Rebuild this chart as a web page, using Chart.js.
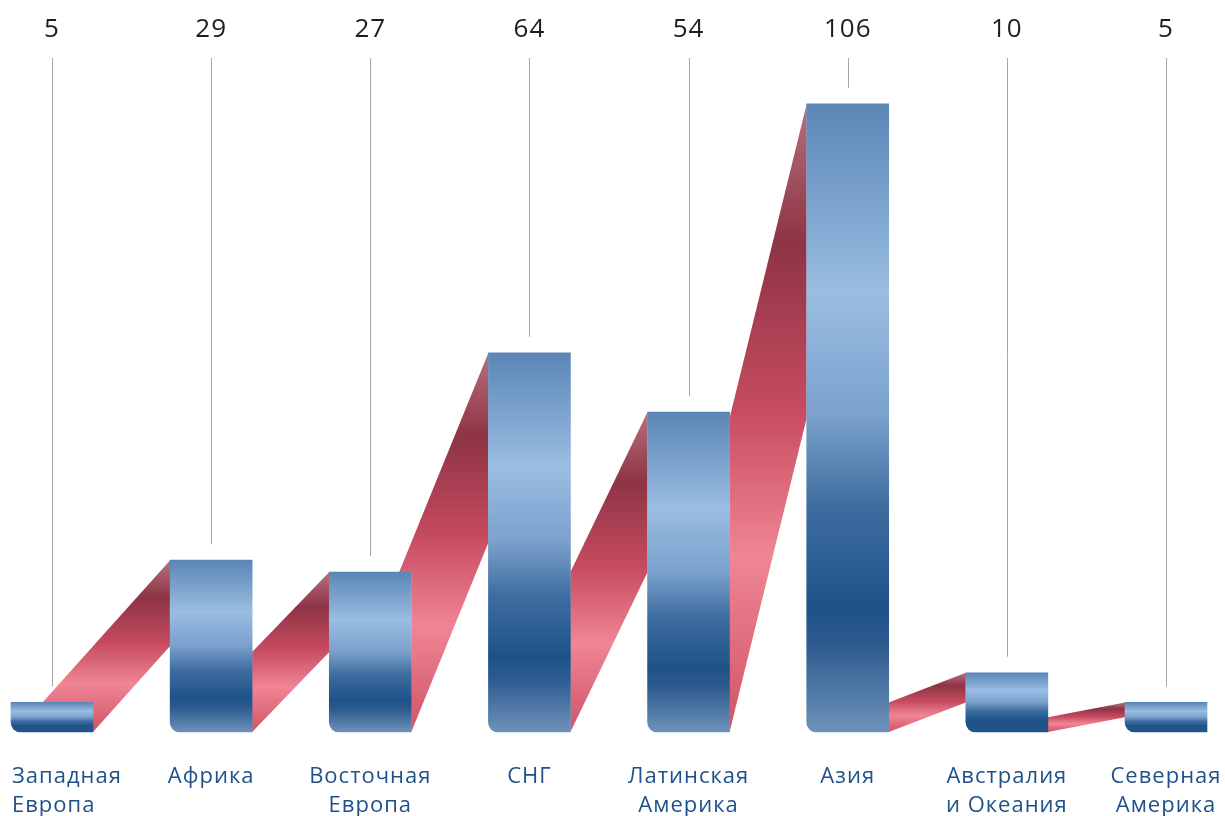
<!DOCTYPE html>
<html><head><meta charset="utf-8">
<script src="https://cdn.jsdelivr.net/npm/chart.js@4.4.0/dist/chart.umd.min.js"></script>
<style>html,body{margin:0;padding:0;background:#fff;} #wrap{width:1225px;height:816px;position:relative;}</style>
</head><body><div id="wrap"><canvas id="c"></canvas></div>
<script>
const categories = [['Западная','Европа'],['Африка'],['Восточная','Европа'],['СНГ'],['Латинская','Америка'],['Азия'],['Австралия','и Океания'],['Северная','Америка']];
const values = [5, 29, 27, 64, 54, 106, 10, 5];
const valueLabels = ['5','29','27','64','54','106','10','5'];

const FONT = '"Open Sans", "Noto Sans", sans-serif';

function barGradient(c) {
  const chart = c.chart;
  const { ctx, chartArea, scales } = chart;
  if (!chartArea || c.type !== 'data') return '#3a6aa0';
  const top = scales.y.getPixelForValue(c.raw);
  const bot = scales.y.getPixelForValue(0);
  const h = bot - top;
  const g = ctx.createLinearGradient(0, top, 0, bot);
  g.addColorStop(0, '#5a86b6');
  g.addColorStop(0.3, '#9abde2');
  g.addColorStop(0.5, '#7aa0cc');
  g.addColorStop(0.64, '#3e6da0');
  g.addColorStop(0.8, '#1f5289');
  if (h > 100) {
    g.addColorStop(0.86, '#2d5b8f');
    g.addColorStop(1, '#6e92ba');
  } else {
    g.addColorStop(1, '#21548b');
  }
  return g;
}

const ribbonPlugin = {
  id: 'ribbons',
  beforeDatasetsDraw(chart) {
    const meta = chart.getDatasetMeta(0);
    const ctx = chart.ctx;
    ctx.save();
    for (let i = 0; i < meta.data.length - 1; i++) {
      const a = meta.data[i], b = meta.data[i + 1];
      const xr = a.x + a.width / 2, xl = b.x - b.width / 2;
      const base = b.base, top = b.y, H = base - top;
      const mid = base - H / 2;
      const m = (H / 2) / (xl - xr);
      const yu = mid;
      ctx.beginPath();
      ctx.moveTo(xr, a.base);
      ctx.lineTo(xl, mid);
      ctx.lineTo(xl, top);
      if (yu < a.y) {
        const xa = xl - (a.y - top) / m;
        ctx.lineTo(xa, a.y);
        ctx.lineTo(xr, a.y);
      } else {
        ctx.lineTo(xr, yu);
      }
      ctx.closePath();
      const g = ctx.createLinearGradient(0, top, 0, base);
      g.addColorStop(0, '#b86f7d');
      g.addColorStop(0.22, '#8d3445');
      g.addColorStop(0.48, '#c64a5f');
      g.addColorStop(0.72, '#f08595');
      g.addColorStop(1, '#cf5467');
      ctx.fillStyle = g;
      ctx.fill();
    }
    ctx.restore();
  },
  afterDatasetsDraw(chart) {
    const meta = chart.getDatasetMeta(0);
    const ctx = chart.ctx;
    ctx.save();
    meta.data.forEach((el, i) => {
      const x = Math.round(el.x) + 0.5;
      ctx.strokeStyle = '#a6a6a6';
      ctx.lineWidth = 1;
      ctx.beginPath();
      ctx.moveTo(x, 58);
      ctx.lineTo(x, el.y - 16);
      ctx.stroke();
      ctx.fillStyle = '#1e1e1e';
      ctx.font = '26px ' + FONT;
      ctx.letterSpacing = '1px';
      ctx.textAlign = 'center';
      ctx.textBaseline = 'alphabetic';
      ctx.fillText(valueLabels[i], el.x, 37);
      // category labels
      const lines = categories[i];
      ctx.font = '22px ' + FONT;
      ctx.letterSpacing = '1px';
      ctx.fillStyle = '#1f5189';
      const maxW = Math.max(...lines.map(l => ctx.measureText(l).width));
      let align = 'center', lx = el.x;
      if (el.x - maxW / 2 < el.x - el.width / 2 && el.x - maxW / 2 < 8) { align = 'left'; lx = el.x - el.width / 2 + 1; }
      else if (el.x + maxW / 2 > chart.width - 2) { align = 'right'; lx = chart.width - 4; }
      ctx.textAlign = align;
      lines.forEach((l, j) => ctx.fillText(l, lx, 783 + j * 29));
    });
    ctx.restore();
  }
};

new Chart(document.getElementById('c'), {
  type: 'bar',
  data: {
    labels: categories,
    datasets: [{
      data: values,
      backgroundColor: barGradient,
      barThickness: 82,
      borderSkipped: false,
      borderRadius: { topLeft: 0, topRight: 0, bottomLeft: 10, bottomRight: 0 },
      clip: false
    }]
  },
  options: {
    responsive: true,
    maintainAspectRatio: false,
    animation: false,
    layout: { padding: { top: 21, bottom: 84, left: 52, right: 59 } },
    plugins: { legend: { display: false }, tooltip: { enabled: false } },
    scales: {
      x: { type: 'category', offset: false, display: false, grid: { display: false } },
      y: { min: 0, max: 120, display: false }
    }
  },
  plugins: [ribbonPlugin]
});
</script>
</body></html>
